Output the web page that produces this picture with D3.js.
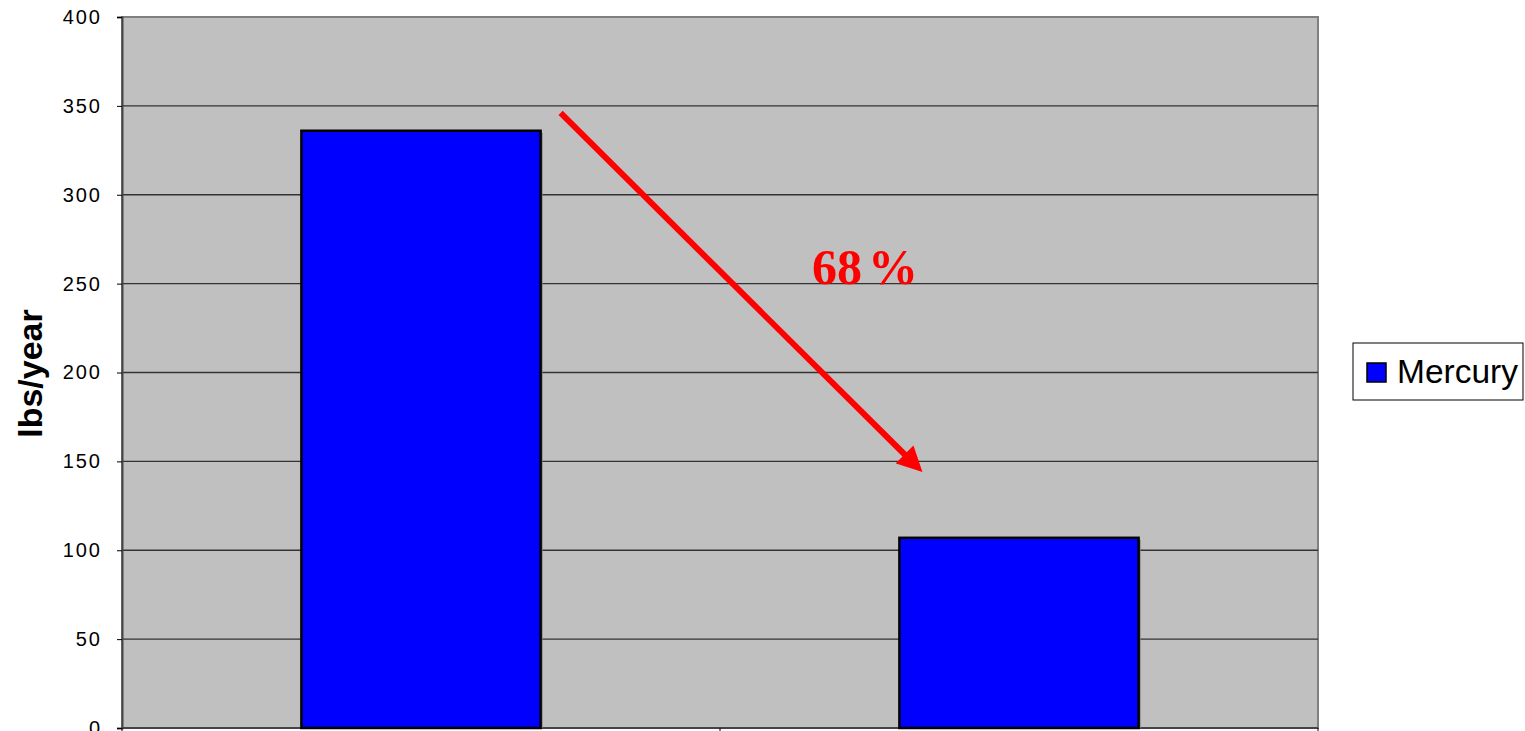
<!DOCTYPE html>
<html>
<head>
<meta charset="utf-8">
<script src="https://cdn.jsdelivr.net/npm/d3@7"></script>
<style>
  html, body { margin: 0; padding: 0; background: #fff; }
  svg { display: block; }
</style>
</head>
<body>
<svg id="chart" width="1525" height="731"></svg>
<script>
// Annual mercury discharge, two periods
const categories = ["Period 1", "Period 2"];
const mercury = [336, 107];
const yTicks = [0, 50, 100, 150, 200, 250, 300, 350, 400];
const seriesName = "Mercury";
const yLabel = "lbs/year";

const svg = d3.select("#chart");
const plot = { left: 122, right: 1318, top: 17, bottom: 728 };

const x = d3.scaleBand()
  .domain(categories)
  .range([plot.left, plot.right])
  .paddingInner(0.6)
  .paddingOuter(0.3);

const y = d3.scaleLinear()
  .domain([0, 400])
  .range([plot.bottom, plot.top]);

// Plot background
svg.append("rect")
  .attr("x", plot.left).attr("y", plot.top)
  .attr("width", plot.right - plot.left)
  .attr("height", plot.bottom - plot.top)
  .attr("fill", "#c0c0c0")
  .attr("stroke", "#808080")
  .attr("stroke-width", 2);

// Horizontal gridlines
svg.append("g")
  .selectAll("line")
  .data(yTicks.filter(d => d > 0 && d < 400))
  .join("line")
  .attr("x1", plot.left).attr("x2", plot.right)
  .attr("y1", d => y(d)).attr("y2", d => y(d))
  .attr("stroke", "#333")
  .attr("stroke-width", 1.3);

// Y axis
const yAxis = svg.append("g")
  .attr("transform", `translate(${plot.left},0)`)
  .call(d3.axisLeft(y).tickValues(yTicks).tickSize(5).tickPadding(15));
yAxis.select(".domain").attr("stroke", "#444").attr("stroke-width", 2);
yAxis.selectAll(".tick line").attr("stroke", "#000");
yAxis.selectAll(".tick text")
  .attr("font-family", "Liberation Sans, Arial, sans-serif")
  .attr("font-size", 20)
  .attr("letter-spacing", 2)
  .attr("fill", "#000");

// X axis: ticks at category boundaries
const bounds = [plot.left, plot.left + x.step(), plot.right];
svg.append("line")
  .attr("x1", plot.left).attr("x2", plot.right)
  .attr("y1", plot.bottom).attr("y2", plot.bottom)
  .attr("stroke", "#444").attr("stroke-width", 2);
svg.append("g").selectAll("line")
  .data(bounds)
  .join("line")
  .attr("x1", d => d).attr("x2", d => d)
  .attr("y1", plot.bottom).attr("y2", plot.bottom + 6)
  .attr("stroke", "#000");

// Bars with a soft offset shadow
const bars = svg.append("g");
bars.selectAll("rect.shadow")
  .data(mercury)
  .join("rect")
  .attr("class", "shadow")
  .attr("x", (d, i) => x(categories[i]) + 2)
  .attr("y", d => y(d) + 2)
  .attr("width", x.bandwidth())
  .attr("height", d => plot.bottom - y(d) - 2)
  .attr("fill", "#808080");
bars.selectAll("rect.bar")
  .data(mercury)
  .join("rect")
  .attr("class", "bar")
  .attr("x", (d, i) => x(categories[i]))
  .attr("y", d => y(d))
  .attr("width", x.bandwidth())
  .attr("height", d => plot.bottom - y(d))
  .attr("fill", "#0000ff")
  .attr("stroke", "#000")
  .attr("stroke-width", 2.5);

// Y axis title
svg.append("text")
  .attr("transform", `translate(42,${(plot.top + plot.bottom) / 2 + 1}) rotate(-90)`)
  .attr("text-anchor", "middle")
  .attr("font-family", "Liberation Sans, Arial, sans-serif")
  .attr("font-weight", "bold")
  .attr("font-size", 34)
  .text(yLabel);

// Reduction arrow and label
const defs = svg.append("defs");
defs.append("marker")
  .attr("id", "head")
  .attr("viewBox", "0 0 10 10")
  .attr("refX", 6).attr("refY", 5)
  .attr("markerWidth", 4.2).attr("markerHeight", 4.2)
  .attr("markerUnits", "strokeWidth")
  .attr("orient", "auto")
  .append("path")
  .attr("d", "M0,0 L10,5 L0,10 Z")
  .attr("fill", "#ff0000");

const x1 = x(categories[0]) + x.bandwidth() + 20;
const y1 = y(346);
const x2 = x(categories[1]) + 23;
const y2 = y(144);
const len = Math.hypot(x2 - x1, y2 - y1);
const ux = (x2 - x1) / len, uy = (y2 - y1) / len;
svg.append("line")
  .attr("x1", x1).attr("y1", y1)
  .attr("x2", x2 - 10 * ux).attr("y2", y2 - 10 * uy)
  .attr("stroke", "#ff0000")
  .attr("stroke-width", 6)
  .attr("marker-end", "url(#head)");

// Percentage reduction, the % sign set slightly apart
const reduction = d3.format(".0%")(1 - mercury[1] / mercury[0]);
const pctLabel = svg.append("text")
  .attr("x", 865).attr("y", 284)
  .attr("text-anchor", "middle")
  .attr("font-family", "Liberation Serif, Times New Roman, serif")
  .attr("font-weight", "bold")
  .attr("font-size", 50)
  .attr("fill", "#ff0000");
pctLabel.append("tspan").text(reduction.slice(0, -1));
pctLabel.append("tspan").attr("dx", 6).text("%");

// Legend
const legend = svg.append("g").attr("transform", "translate(1353,343)");
legend.append("rect")
  .attr("width", 170).attr("height", 57)
  .attr("fill", "#fff").attr("stroke", "#000").attr("stroke-width", 1);
legend.append("rect")
  .attr("x", 14).attr("y", 20).attr("width", 19).attr("height", 19)
  .attr("fill", "#0000ff").attr("stroke", "#000").attr("stroke-width", 1.5);
legend.append("text")
  .attr("x", 44).attr("y", 40)
  .attr("font-family", "Liberation Sans, Arial, sans-serif")
  .attr("font-size", 33.5)
  .text(seriesName);
</script>
</body>
</html>
